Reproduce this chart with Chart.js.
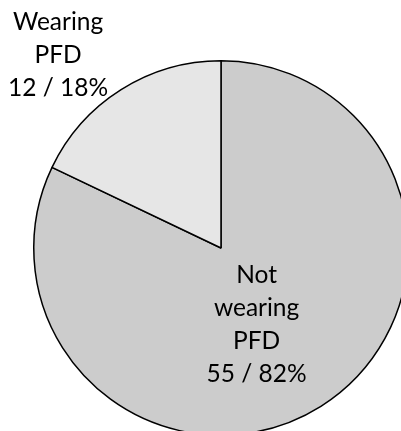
<!DOCTYPE html>
<html>
<head>
<meta charset="utf-8">
<script src="https://cdn.jsdelivr.net/npm/chart.js@4"></script>
<style>
  html, body { margin: 0; padding: 0; background: #fff; overflow: hidden; }
  #wrap { position: absolute; left: 0; top: 0; width: 442px; height: 496px; }
</style>
</head>
<body>
<div id="wrap"><canvas id="c"></canvas></div>
<script>
const categories = ["Not wearing PFD", "Wearing PFD"];
const counts = [55, 12];
const percents = [82, 18];
const labelLines = [["Not", "wearing", "PFD"], ["Wearing", "PFD"]];

// where each label block sits, as fractions of the radius from the centre
const labelSpots = [{ dx: 0.19, dy: 0.41 }, { dx: -0.87, dy: -1.03 }];

const sliceLabels = {
  id: "sliceLabels",
  afterDatasetsDraw(chart) {
    const { ctx } = chart;
    const arc = chart.getDatasetMeta(0).data[0];
    const r = arc.outerRadius;
    ctx.save();
    ctx.font = "24.5px Lato";
    ctx.fillStyle = "#000";
    ctx.textAlign = "center";
    ctx.textBaseline = "middle";
    const lh = 33;
    categories.forEach((_, i) => {
      const lines = [...labelLines[i], `${counts[i]} / ${percents[i]}%`];
      const cx = arc.x + labelSpots[i].dx * r;
      const cy = arc.y + labelSpots[i].dy * r;
      const top = cy - (lines.length - 1) * lh / 2;
      lines.forEach((t, j) => ctx.fillText(t, cx, top + j * lh));
    });
    ctx.restore();
  }
};

new Chart(document.getElementById("c"), {
  type: "pie",
  data: {
    labels: categories,
    datasets: [{
      data: counts,
      backgroundColor: ["#cccccc", "#e6e6e6"],
      borderColor: "#000",
      borderWidth: 1.5
    }]
  },
  options: {
    responsive: true,
    maintainAspectRatio: false,
    animation: false,
    layout: { padding: { left: 33, right: 33, top: 60, bottom: 60 } },
    plugins: { legend: { display: false }, tooltip: { enabled: false } }
  },
  plugins: [sliceLabels]
});
</script>
</body>
</html>
